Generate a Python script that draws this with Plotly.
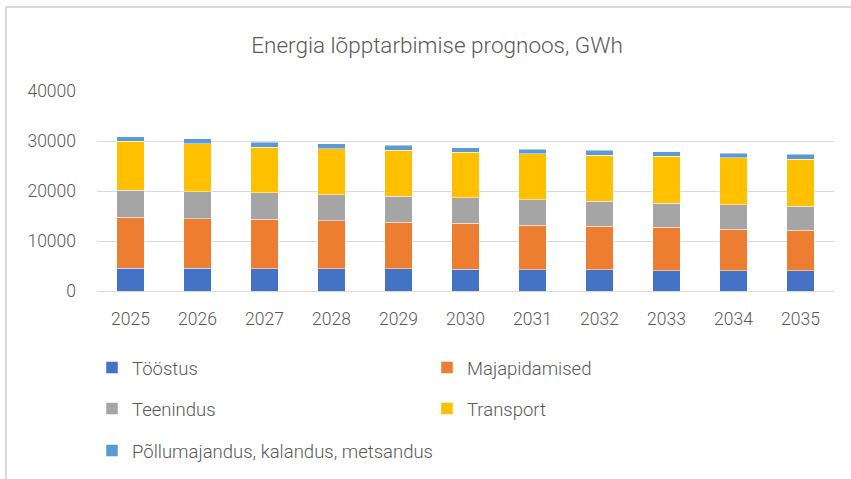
import plotly.graph_objects as go

years = ["2025", "2026", "2027", "2028", "2029", "2030", "2031", "2032", "2033", "2034", "2035"]
toostus = [4600, 4600, 4450, 4420, 4420, 4350, 4280, 4220, 4100, 4080, 4020]
majapidamised = [10200, 9900, 9870, 9640, 9370, 9170, 8910, 8700, 8620, 8300, 8160]
teenindus = [5400, 5400, 5290, 5220, 5150, 5090, 5020, 5020, 4880, 4890, 4750]
transport = [9800, 9550, 9170, 9170, 9170, 9100, 9240, 9230, 9310, 9370, 9440]
pollumajandus = [900, 1050, 940, 1000, 1010, 940, 860, 940, 940, 940, 940]

series_names = ["Tööstus", "Majapidamised", "Teenindus", "Transport",
                "Põllumajandus, kalandus, metsandus"]
series_values = [toostus, majapidamised, teenindus, transport, pollumajandus]
series_colors = ["#4472C4", "#ED7D31", "#A5A5A5", "#FFC000", "#5B9BD5"]
series_legend = ["legend", "legend", "legend2", "legend2", "legend3"]

y_ticks = [0, 10000, 20000, 30000, 40000]

FONT = "Roboto"
TXT = "#595959"
FW, FH = 851, 479

fig = go.Figure()
for name, vals, col, lg in zip(series_names, series_values, series_colors, series_legend):
    fig.add_trace(go.Bar(
        x=years, y=vals, name=name, legend=lg,
        marker=dict(color=col, line=dict(color="rgba(255,255,255,0.6)", width=0.8)),
    ))

# plot area in pixels
L, R, T, B = 97, 834, 91, 291
W, H = R - L, B - T

def px_x(px):
    return (px - L) / W

def px_y(py):
    return (B - py) / H

legend_common = dict(
    orientation="h", xanchor="left", yanchor="middle",
    xref="container", yref="container",
    font=dict(family=FONT, size=18.5, color=TXT, weight=300),
    bgcolor="rgba(0,0,0,0)", entrywidthmode="pixels",
    traceorder="normal",
)

fig.update_layout(
    width=FW, height=FH,
    margin=dict(l=L, r=FW - R, t=T, b=FH - B, pad=0, autoexpand=False),
    paper_bgcolor="white", plot_bgcolor="white",
    barmode="stack", bargap=0.59,
    font=dict(family=FONT, color=TXT, size=17, weight=300),
    title=dict(
        text="Energia lõpptarbimise prognoos, GWh",
        x=437 / FW, xref="container", xanchor="center",
        y=1 - 45 / FH, yref="container", yanchor="middle",
        font=dict(family=FONT, size=22.5, color=TXT, weight=300),
    ),
    xaxis=dict(
        type="category", showgrid=False, zeroline=False,
        showline=True, linecolor="#D9D9D9", linewidth=1,
        ticks="", tickfont=dict(family=FONT, size=17.5, color=TXT, weight=300),
        ticklabelstandoff=12,
    ),
    yaxis=dict(
        range=[0, 40000], tickvals=y_ticks, ticktext=[str(v) for v in y_ticks],
        showgrid=True, gridcolor="#D9D9D9", gridwidth=1,
        zeroline=False, showline=False, ticks="",
        tickfont=dict(family=FONT, size=17.5, color=TXT, weight=300),
        ticklabelstandoff=20,
    ),
    legend=dict(legend_common, x=92 / FW, y=1 - 368 / FH, entrywidth=290),
    legend2=dict(legend_common, x=92 / FW, y=1 - 409 / FH, entrywidth=290),
    legend3=dict(legend_common, x=92 / FW, y=1 - 451 / FH, entrywidth=0),
    showlegend=True,
)

# chart frame (left and top borders)
fig.add_shape(type="line", xref="paper", yref="paper",
              x0=px_x(6), x1=px_x(6), y0=px_y(7), y1=px_y(479),
              line=dict(color="#D9D9D9", width=2))
fig.add_shape(type="line", xref="paper", yref="paper",
              x0=px_x(6), x1=px_x(851), y0=px_y(7), y1=px_y(7),
              line=dict(color="#D9D9D9", width=2))

fig.write_html("out.html",
               config={"displayModeBar": False},
               post_script="document.body.style.margin='0';document.body.style.overflow='hidden';")
